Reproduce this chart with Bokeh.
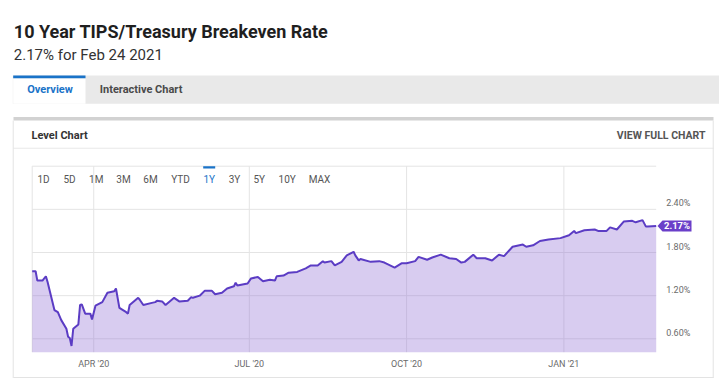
import pandas as pd
from bokeh.plotting import figure
from bokeh.models import (Range1d, FixedTicker, Label, BoxAnnotation, PolyAnnotation,
                          ColumnDataSource, PrintfTickFormatter, DatetimeAxis, LinearAxis)
from bokeh.embed import file_html
from bokeh.resources import INLINE

# ---------------- data ----------------
dates = [
    "2020-02-25", "2020-02-27", "2020-02-28",
    "2020-03-02", "2020-03-04", "2020-03-05", "2020-03-09", "2020-03-11", "2020-03-13",
    "2020-03-16", "2020-03-17", "2020-03-18", "2020-03-19", "2020-03-20", "2020-03-23",
    "2020-03-24", "2020-03-25", "2020-03-27", "2020-03-30", "2020-03-31",
    "2020-04-02", "2020-04-06", "2020-04-09", "2020-04-13", "2020-04-14", "2020-04-16",
    "2020-04-20", "2020-04-21", "2020-04-22", "2020-04-27", "2020-04-28", "2020-04-30",
    "2020-05-05", "2020-05-07", "2020-05-08", "2020-05-11", "2020-05-13", "2020-05-18",
    "2020-05-21", "2020-05-26", "2020-05-28", "2020-05-29",
    "2020-06-02", "2020-06-05", "2020-06-09", "2020-06-11", "2020-06-15", "2020-06-18",
    "2020-06-22", "2020-06-23", "2020-06-24", "2020-06-30",
    "2020-07-02", "2020-07-06", "2020-07-09", "2020-07-13", "2020-07-16", "2020-07-17",
    "2020-07-21", "2020-07-24", "2020-07-29",
    "2020-08-03", "2020-08-06", "2020-08-10", "2020-08-13", "2020-08-14", "2020-08-18",
    "2020-08-20", "2020-08-24", "2020-08-27", "2020-08-31",
    "2020-09-01", "2020-09-03", "2020-09-04", "2020-09-10", "2020-09-15", "2020-09-18",
    "2020-09-24", "2020-09-28",
    "2020-10-01", "2020-10-06", "2020-10-08", "2020-10-13", "2020-10-16", "2020-10-21",
    "2020-10-26", "2020-10-30",
    "2020-11-02", "2020-11-04", "2020-11-09", "2020-11-11", "2020-11-16", "2020-11-20",
    "2020-11-24", "2020-11-27",
    "2020-12-02", "2020-12-08", "2020-12-10", "2020-12-14", "2020-12-18", "2020-12-23",
    "2020-12-30",
    "2021-01-04", "2021-01-07", "2021-01-08", "2021-01-13", "2021-01-19", "2021-01-21",
    "2021-01-26", "2021-01-28",
    "2021-02-01", "2021-02-05", "2021-02-10", "2021-02-12", "2021-02-16", "2021-02-18",
    "2021-02-19", "2021-02-24",
]
values = [
    1.54, 1.54, 1.41,
    1.41, 1.47, 1.39, 1.00, 0.97, 0.86,
    0.74, 0.63, 0.61, 0.50, 0.74, 0.80,
    1.07, 1.08, 0.95, 0.95, 0.87,
    1.06, 1.11, 1.24, 1.26, 1.30, 1.03,
    0.97, 0.95, 1.07, 1.17, 1.14, 1.07,
    1.10, 1.11, 1.13, 1.12, 1.07, 1.17,
    1.12, 1.13, 1.18, 1.17,
    1.20, 1.27, 1.27, 1.22, 1.24, 1.30,
    1.33, 1.38, 1.34, 1.37,
    1.44, 1.46, 1.40, 1.42, 1.41, 1.47,
    1.48, 1.52, 1.53,
    1.58, 1.62, 1.62, 1.68, 1.66, 1.68,
    1.62, 1.67, 1.76, 1.81,
    1.76, 1.69, 1.71, 1.67, 1.68, 1.66,
    1.59, 1.65,
    1.65, 1.68, 1.74, 1.70, 1.73, 1.77,
    1.72, 1.71,
    1.66, 1.67, 1.77, 1.72, 1.72, 1.69,
    1.77, 1.75,
    1.88, 1.91, 1.88, 1.90, 1.96, 1.98,
    2.00,
    2.04, 2.10, 2.07, 2.11, 2.12, 2.10,
    2.10, 2.15,
    2.12, 2.23, 2.24, 2.22, 2.25, 2.16,
    2.16, 2.17,
]
xtick_dates = ["2020-04-01", "2020-07-01", "2020-10-01", "2021-01-01"]
xtick_labels = ["APR '20", "JUL '20", "OCT '20", "JAN '21"]
ytick_values = [0.6, 1.2, 1.8, 2.4, 3.0]
range_buttons = ["1D", "5D", "1M", "3M", "6M", "YTD", "1Y", "3Y", "5Y", "10Y", "MAX"]
active_button = "1Y"
title_text = "10 Year TIPS/Treasury Breakeven Rate"
subtitle_text = "2.17% for Feb 24 2021"
tab_labels = ["Overview", "Interactive Chart"]
panel_title = "Level Chart"
panel_link = "VIEW FULL CHART"
x_start, x_end = "2020-02-25", "2021-02-24"
y_start, y_end = 0.414, 3.0

# ---------------- layout constants ----------------
W, H = 719, 381
CX0, CX1, CY0, CY1 = 31.7, 655.7, 165.7, 351.7   # chart area on the canvas
FONT = "Roboto"
PURPLE_LINE = "#5b3cc4"
PURPLE_TAG = "#6a3fc9"
BLUE = "#1a73c8"
GRID = "#e4e4e4"
button_x = [43, 69, 95.7, 123, 150, 180, 208.7, 234, 258.7, 286.7, 319]  # centres


def sx(px):
    return px


def sy(py):
    return H - py


def ms(d):
    return pd.Timestamp(d).value / 1e6


xs_ms, xe_ms = ms(x_start), ms(x_end)
kx = (xe_ms - xs_ms) / (CX1 - CX0)
ky = (y_end - y_start) / (CY1 - CY0)
x_range = Range1d(xs_ms - CX0 * kx, xe_ms + (W - CX1) * kx)
y_range = Range1d(y_start - (H - CY1) * ky, y_end + CY0 * ky)

p = figure(width=W, height=H, min_border=0, x_axis_location=None, y_axis_location=None,
           x_range=x_range, y_range=y_range,
           output_backend="svg", toolbar_location=None,
           background_fill_color="white", border_fill_color="white",
           outline_line_color=None)
p.grid.visible = False
# label offset range for the value axis (labels sit just above their grid line)
d6 = 6 * ky
p.extra_y_ranges = {"lab": Range1d(y_range.start - d6, y_range.end - d6)}

xtick_ms = [ms(d) for d in xtick_dates]
src = ColumnDataSource(dict(date=pd.to_datetime(dates), val=values))

# grid lines and chart border (data driven, limited to the chart area)
p.segment(x0=xs_ms, x1=xe_ms, y0=ytick_values, y1=ytick_values, line_color=GRID, line_width=1)
p.segment(x0=xtick_ms + [xs_ms], x1=xtick_ms + [xs_ms], y0=y_start, y1=y_end,
          line_color=GRID, line_width=1)

p.varea(x="date", y1=y_start, y2="val", source=src, fill_color="#8f6dd4", fill_alpha=0.35)
p.line(x="date", y="val", source=src, line_color=PURPLE_LINE, line_width=2)

xaxis = DatetimeAxis(fixed_location=y_start, ticker=FixedTicker(ticks=xtick_ms),
                     major_label_overrides={t: lab for t, lab in zip(xtick_ms, xtick_labels)})
yaxis = LinearAxis(fixed_location=xe_ms, y_range_name="lab",
                   ticker=FixedTicker(ticks=ytick_values),
                   formatter=PrintfTickFormatter(format="%.2f%%"),
                   major_label_overrides={3.0: ""})
for ax in (xaxis, yaxis):
    ax.axis_line_color = None
    ax.major_tick_line_color = None
    ax.minor_tick_line_color = None
    ax.major_label_text_font = FONT
    ax.major_label_text_font_size = "9px"
    ax.major_label_text_color = "#6b6b6b"
xaxis.major_label_standoff = 1
yaxis.major_label_standoff = 4
p.add_layout(xaxis, "below")
p.add_layout(yaxis, "right")


def box(l, r, t, b, color):
    p.add_layout(BoxAnnotation(left=sx(l), right=sx(r), top=sy(t), bottom=sy(b),
                               left_units="screen", right_units="screen",
                               top_units="screen", bottom_units="screen",
                               fill_color=color, fill_alpha=1, line_alpha=0))


def label(px, py, text, size, color, bold=False, align="left", baseline="middle"):
    p.add_layout(Label(x=sx(px), y=sy(py), x_units="screen", y_units="screen", text=text,
                       text_font=FONT, text_font_size=size, text_color=color,
                       text_font_style="bold" if bold else "normal",
                       text_align=align, text_baseline=baseline))


# header
label(13.3, 30.7, title_text, "18px", "#1f1f1f", bold=True, baseline="alphabetic")
label(13.3, 54.3, subtitle_text, "15px", "#333333", baseline="alphabetic")

# tabs
box(12.3, 719, 75, 103.3, "#e9e9e9")
box(12.7, 85, 77.7, 103.3, "#ffffff")
box(12.7, 85, 75, 77.7, BLUE)
label(26.7, 89, tab_labels[0], "11px", BLUE, bold=True)
label(99.3, 89, tab_labels[1], "11px", "#4a4a4a", bold=True)

# panel box
box(13, 713, 116.5, 120, "#d2d2d2")
box(13, 713, 147.3, 148.3, "#e8e8e8")
box(12.2, 13.2, 120, 377.5, "#e3e3e3")
box(712.2, 713.2, 120, 377.5, "#e3e3e3")
box(13, 713, 376.5, 377.5, "#e3e3e3")
label(31, 134.5, panel_title, "11px", "#333333", bold=True)
label(705, 134.5, panel_link, "10.5px", "#555555", bold=True, align="right")

# range selector
for name, bx in zip(range_buttons, button_x):
    label(bx, 179.3, name, "10px", BLUE if name == active_button else "#555555", align="center")
ai = range_buttons.index(active_button)
box(button_x[ai] - 6, button_x[ai] + 6, 165.7, 167.9, BLUE)

# last-value tag
last = values[-1]
h = 5.5 * ky
p.add_layout(PolyAnnotation(xs=[sx(657), sx(662), sx(691), sx(691), sx(662)],
                            ys=[last, last + h, last + h, last - h, last - h],
                            xs_units="screen", ys_units="data",
                            fill_color=PURPLE_TAG, fill_alpha=1, line_alpha=0))
p.add_layout(Label(x=sx(676.5), y=last, x_units="screen", y_units="data",
                   text=f"{last:.2f}%", text_font=FONT, text_font_size="9.5px",
                   text_font_style="bold", text_color="white",
                   text_align="center", text_baseline="middle"))

open("out.html", "w").write(file_html(p, INLINE))
